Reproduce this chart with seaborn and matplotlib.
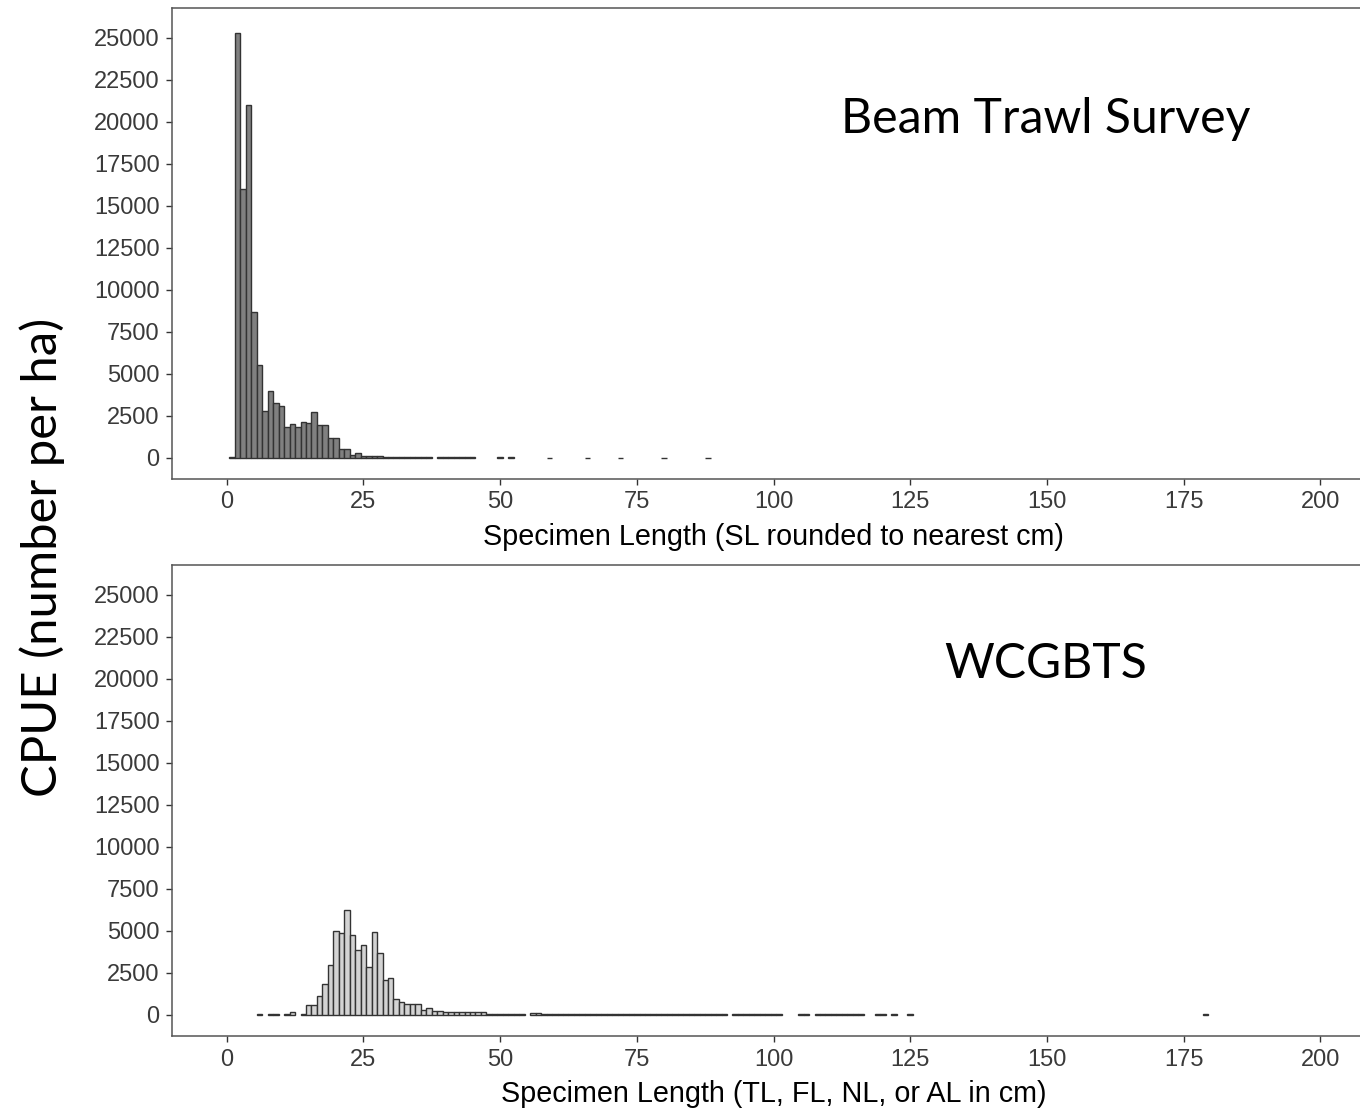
import matplotlib
matplotlib.use("Agg")
import matplotlib.pyplot as plt
import seaborn as sns
import pandas as pd

# ---- data ----
top_len = [1, 2, 3, 4, 5, 6, 7, 8, 9, 10, 11, 12, 13, 14, 15, 16, 17, 18, 19, 20,
           21, 22, 23, 24, 25, 26, 27, 28, 29, 30, 31, 32, 33, 34, 35, 36, 37,
           39, 40, 41, 42, 43, 44, 45, 50, 52, 59, 66, 72, 80, 88]
top_cpue = [30, 25300, 16000, 21000, 8700, 5500, 2800, 3950, 3250, 3050, 1800, 2000,
            1800, 2150, 2050, 2700, 1950, 1950, 1200, 1200, 540, 540, 160, 300,
            100, 90, 90, 80, 30, 25, 20, 25, 20, 20, 25, 15, 20,
            20, 15, 20, 15, 20, 15, 15, 15, 15, 10, 10, 10, 10, 10]

bot_len = [6, 8, 9, 11, 12, 14, 15, 16, 17, 18, 19, 20, 21, 22, 23, 24, 25, 26, 27,
           28, 29, 30, 31, 32, 33, 34, 35, 36, 37, 38, 39, 40, 41, 42, 43, 44, 45,
           46, 47, 48, 49, 50, 51, 52, 53, 54, 56, 57,
           58, 59, 60, 61, 62, 63, 64, 65, 66, 67, 68, 69, 70, 71, 72, 73, 74, 75,
           76, 77, 78, 79, 80, 81, 82, 83, 84, 85, 86, 87, 88, 89, 90, 91,
           93, 94, 95, 96, 97, 98, 99, 100, 101, 105, 106,
           108, 109, 110, 111, 112, 113, 114, 115, 116, 119, 120, 122, 125, 179]
bot_cpue = [20, 20, 20, 20, 180, 40, 560, 560, 1110, 1810, 2960, 4990, 4890, 6220,
            4750, 3840, 4120, 2850, 4900, 3660, 2070, 2160, 930, 770, 640, 640, 640,
            300, 400, 240, 200, 160, 150, 150, 140, 150, 140, 150, 140,
            60, 60, 60, 60, 60, 60, 60, 110, 110,
            20, 20, 20, 20, 20, 20, 20, 20, 20, 20, 20, 20, 20, 20, 20, 20, 20, 20,
            20, 20, 20, 20, 20, 20, 20, 20, 20, 20, 20, 20, 20, 20, 20, 15,
            15, 15, 15, 15, 15, 15, 15, 15, 15, 15, 15,
            15, 15, 15, 15, 15, 15, 15, 15, 15, 15, 15, 15, 15, 15]

x_ticks = [0, 25, 50, 75, 100, 125, 150, 175, 200]
y_ticks = [0, 2500, 5000, 7500, 10000, 12500, 15000, 17500, 20000, 22500, 25000]

panel_titles = ["Beam Trawl Survey", "WCGBTS"]
x_titles = ["Specimen Length (SL rounded to nearest cm)",
            "Specimen Length (TL, FL, NL, or AL in cm)"]
y_title = "CPUE (number per ha)"

# ---- style ----
sns.set_theme(style="white")
plt.rcParams["font.family"] = ["Liberation Sans", "DejaVu Sans"]
plt.rcParams["text.color"] = "black"
plt.rcParams["axes.labelcolor"] = "black"

W, H = 1360, 1110
fig = plt.figure(figsize=(W / 100, H / 100), dpi=100)

left = 172 / W
width = (1375 - 172) / W
ax_h = (479 - 8) / H
ax1 = fig.add_axes([left, 1 - 479 / H, width, ax_h])
ax2 = fig.add_axes([left, 1 - 1036 / H, width, ax_h])

df_top = pd.DataFrame({"length": top_len, "cpue": top_cpue})
df_bot = pd.DataFrame({"length": bot_len, "cpue": bot_cpue})

sns.barplot(data=df_top, x="length", y="cpue", native_scale=True, width=1,
            errorbar=None, color="#808080", edgecolor="#333333", linewidth=1.0,
            saturation=1, ax=ax1)
sns.barplot(data=df_bot, x="length", y="cpue", native_scale=True, width=1,
            errorbar=None, color="#d3d3d3", edgecolor="#333333", linewidth=1.0,
            saturation=1, ax=ax2)

for ax, xt in zip([ax1, ax2], x_titles):
    ax.set_xlim(-10, 210)
    ax.set_ylim(-1270, 26780)
    ax.set_xticks(x_ticks)
    ax.set_xticklabels([str(v) for v in x_ticks])
    ax.set_yticks(y_ticks)
    ax.set_yticklabels([str(v) for v in y_ticks])
    ax.tick_params(axis="both", which="major", length=4, width=1.0,
                   color="#333333", labelsize=17, labelcolor="#3a3a3a",
                   bottom=True, left=True, pad=5)
    ax.set_xlabel(xt, fontsize=20.7, color="black", labelpad=7)
    ax.set_ylabel("")
    ax.grid(False)
    for s in ax.spines.values():
        s.set_color("#555555")
        s.set_linewidth(1.1)

fig.text(1046 / W, 1 - 133 / H, panel_titles[0], fontsize=34.7, color="black",
         family=["Lato", "DejaVu Sans"], ha="center", va="baseline")
fig.text(1046 / W, 1 - 678 / H, panel_titles[1], fontsize=34.7, color="black",
         family=["Lato", "DejaVu Sans"], ha="center", va="baseline")
fig.text(42 / W, 1 - 557 / H, y_title, fontsize=35.3, rotation=90, color="black",
         family=["Lato", "DejaVu Sans"], ha="center", va="center")

fig.savefig("out.png", dpi=100)
